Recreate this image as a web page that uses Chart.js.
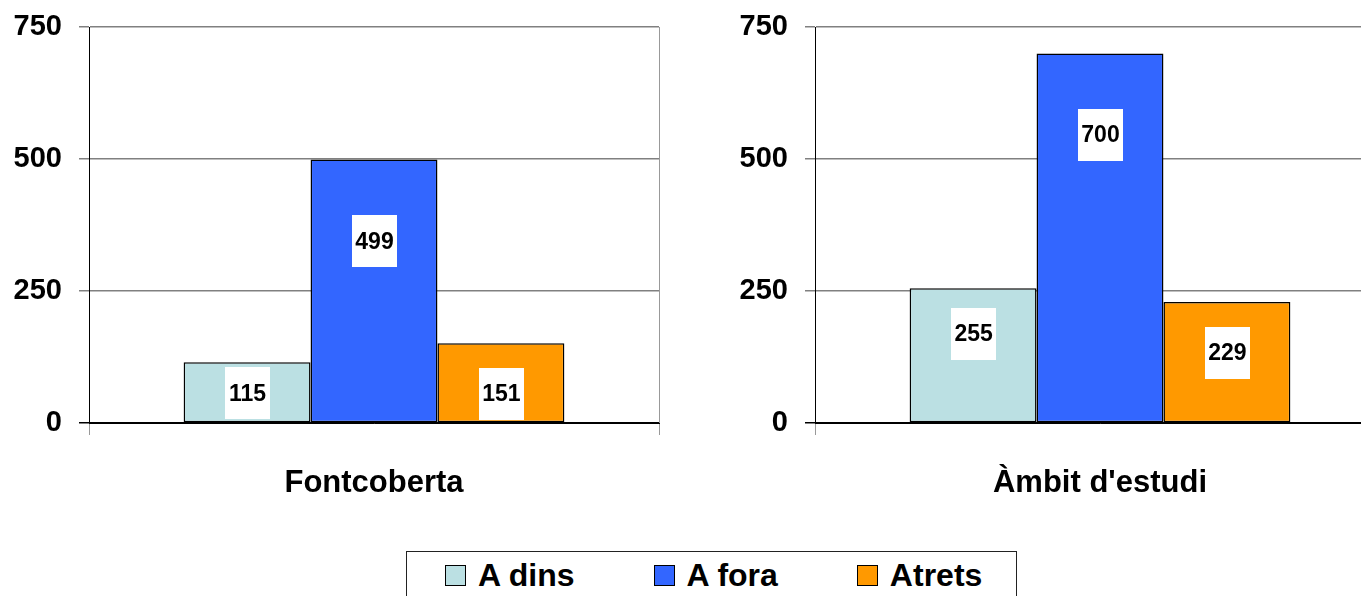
<!DOCTYPE html>
<html>
<head>
<meta charset="utf-8">
<title>A dins / A fora / Atrets</title>
<script src="https://cdn.jsdelivr.net/npm/chart.js@4/dist/chart.umd.min.js"></script>
<style>
    body {
        margin: 0;
        width: 1361px;
        height: 596px;
        overflow: hidden;
        position: relative;
        background: #fff;
        font-family: 'Liberation Sans', Arial, sans-serif;
    }
    .panel { position: absolute; top: 0; }
    #left-panel { left: 0; }
    #right-panel { left: 726px; }
    #legend {
        position: absolute;
        left: 406px;
        top: 551px;
        width: 611px;
        height: 60px;
        border: 1px solid #222;
        display: flex;
        align-items: flex-start;
        padding-left: 38px;
        box-sizing: border-box;
        white-space: nowrap;
    }
    .item {
        display: flex;
        align-items: center;
        font-weight: bold;
        font-size: 32px;
        line-height: 1;
        margin-top: 7px;
        margin-right: 79px;
    }
    .swatch {
        width: 19px;
        height: 19px;
        border: 1px solid #000;
        margin-right: 12px;
    }
</style>
</head>
<body>
<canvas id="left-panel" class="panel" width="700" height="520"></canvas>
<canvas id="right-panel" class="panel" width="700" height="520"></canvas>
<div id="legend"></div>

<script>
// values
const seriesNames = ['A dins', 'A fora', 'Atrets'];
const panelNames = ['Fontcoberta', "Àmbit d'estudi"];
const fontcobertaValues = [115, 499, 151];
const ambitValues = [255, 700, 229];
const yTicks = [0, 250, 500, 750];

const seriesColors = ['#BBE0E3', '#3366FF', '#FF9900'];
const FONT = "'Liberation Sans', Arial, sans-serif";

// where the value box sits, as a share of the bar height (labels were dragged by hand)
const labelAt = {
    'left-panel': [0.49, 0.69, 0.37],
    'right-panel': [0.66, 0.78, 0.58]
};

const valueBoxes = {
    id: 'valueBoxes',
    afterDatasetsDraw(chart) {
        const ctx = chart.ctx;
        const y = chart.scales.y;
        const shares = labelAt[chart.canvas.id];
        ctx.save();
        chart.data.datasets.forEach((ds, i) => {
            chart.getDatasetMeta(i).data.forEach((bar, j) => {
                const v = ds.data[j];
                const cy = y.getPixelForValue(v * shares[i]);
                ctx.fillStyle = '#fff';
                ctx.fillRect(Math.round(bar.x - 22), Math.round(cy - 26), 45, 52);
                ctx.fillStyle = '#000';
                ctx.font = 'bold 23px ' + FONT;
                ctx.textAlign = 'center';
                ctx.textBaseline = 'middle';
                ctx.fillText(String(v), bar.x + 0.5, cy + 1);
            });
        });
        ctx.restore();
    }
};

function makeChart(canvasId, category, values) {
    const ctx = document.getElementById(canvasId).getContext('2d');
    return new Chart(ctx, {
        type: 'bar',
        data: {
            labels: [category],
            datasets: seriesNames.map((name, i) => ({
                label: name,
                data: [values[i]],
                backgroundColor: seriesColors[i],
                borderColor: '#000',
                borderWidth: 1.5,
                borderSkipped: false,
                categoryPercentage: 0.668,
                barPercentage: 1
            }))
        },
        options: {
            responsive: false,
            animation: false,
            events: [],
            layout: { padding: { top: 27, right: 41, left: 0, bottom: 0 } },
            plugins: {
                legend: { display: false },
                tooltip: { enabled: false }
            },
            scales: {
                x: {
                    grid: { offset: true, color: '#999', tickLength: 12, lineWidth: 1 },
                    border: { color: '#000', width: 1 },
                    ticks: {
                        color: '#000',
                        padding: 30,
                        font: { family: FONT, size: 31, weight: 'bold' }
                    },
                    afterFit: s => { s.height = 97; s.paddingLeft = 0; s.paddingRight = 0; }
                },
                y: {
                    min: 0,
                    max: 750,
                    afterBuildTicks: s => { s.ticks = yTicks.map(v => ({ value: v })); },
                    grid: {
                        tickLength: 10,
                        lineWidth: 1.5,
                        color: c => (c.tick && c.tick.value === 0 ? '#000' : '#808080')
                    },
                    border: { color: '#000', width: 1 },
                    ticks: {
                        color: '#000',
                        padding: 17,
                        font: { family: FONT, size: 29, weight: 'bold' }
                    },
                    afterFit: s => { s.width = 89; s.paddingTop = 0; s.paddingBottom = 0; }
                }
            }
        },
        plugins: [valueBoxes]
    });
}

makeChart('left-panel', panelNames[0], fontcobertaValues);
makeChart('right-panel', panelNames[1], ambitValues);

document.getElementById('legend').innerHTML = seriesNames.map((name, i) => `
    <div class="item">
        <span class="swatch" style="background:${seriesColors[i]}"></span>
        <span>${name}</span>
    </div>
`).join('');
</script>
</body>
</html>
